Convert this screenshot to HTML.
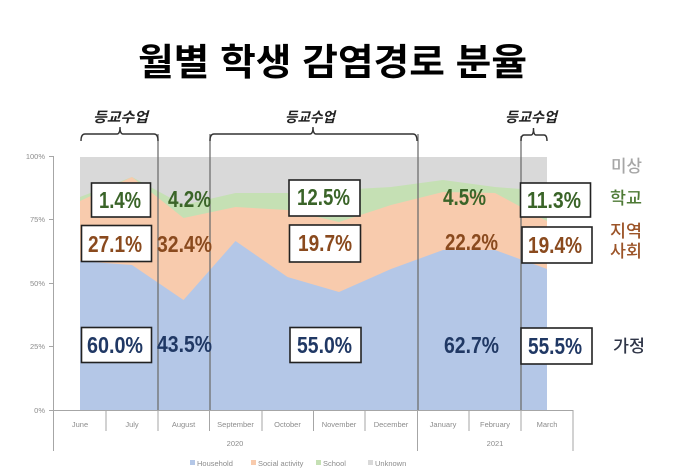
<!DOCTYPE html>
<html><head><meta charset="utf-8"><style>
html,body{margin:0;padding:0;background:#fff;}
svg{display:block;}
</style></head><body>
<svg width="680" height="469" viewBox="0 0 680 469" xmlns="http://www.w3.org/2000/svg">
<rect width="680" height="469" fill="#fff"/>
<!-- Title -->
<text x="138" y="75" font-family="'Liberation Sans','Noto Sans CJK KR',sans-serif" font-weight="700" font-size="37" fill="#000" textLength="389" lengthAdjust="spacingAndGlyphs">월별 학생 감염경로 분율</text>

<!-- Areas -->
<rect x="80" y="157" width="467" height="253" fill="#d9d9d9"/>
<polygon fill="#c5e0b4" points="80,197 132,177 183.5,205 235.5,193 287.5,193 339,190 391,187 443,180 495,187 547,191 547,410 80,410"/>
<polygon fill="#f8cbad" points="80,201 132,177 183.5,218 235.5,207 287.5,210 339,222 391,205 443,192 495,193 547,221 547,410 80,410"/>
<polygon fill="#b4c7e7" points="80,261 132,265 183.5,300 235.5,241 287.5,277 339,292 391,269 443,250 495,250 547,269 547,410 80,410"/>

<!-- Axes -->
<g stroke="#a6a6a6" stroke-width="1" fill="none">
<line x1="53.5" y1="156" x2="53.5" y2="451"/>
<line x1="49" y1="156.5" x2="53.5" y2="156.5"/>
<line x1="49" y1="219.5" x2="53.5" y2="219.5"/>
<line x1="49" y1="283.5" x2="53.5" y2="283.5"/>
<line x1="49" y1="346.5" x2="53.5" y2="346.5"/>
<line x1="49" y1="410.5" x2="573" y2="410.5"/>
<line x1="106" y1="410" x2="106" y2="431"/>
<line x1="158" y1="410" x2="158" y2="431"/>
<line x1="209.5" y1="410" x2="209.5" y2="431"/>
<line x1="262" y1="410" x2="262" y2="431"/>
<line x1="313.5" y1="410" x2="313.5" y2="431"/>
<line x1="365" y1="410" x2="365" y2="431"/>
<line x1="417.5" y1="410" x2="417.5" y2="451"/>
<line x1="469" y1="410" x2="469" y2="431"/>
<line x1="521" y1="410" x2="521" y2="431"/>
<line x1="573" y1="410" x2="573" y2="451"/>
</g>
<g font-family="'Liberation Sans',sans-serif" font-size="7.5" fill="#8c8c8c" text-anchor="end">
<text x="45" y="159">100%</text>
<text x="45" y="222">75%</text>
<text x="45" y="286">50%</text>
<text x="45" y="349">25%</text>
<text x="45" y="413">0%</text>
</g>
<g font-family="'Liberation Sans',sans-serif" font-size="7.5" fill="#8c8c8c" text-anchor="middle">
<text x="80" y="427">June</text>
<text x="132" y="427">July</text>
<text x="183.5" y="427">August</text>
<text x="235.5" y="427">September</text>
<text x="287.5" y="427">October</text>
<text x="339" y="427">November</text>
<text x="391" y="427">December</text>
<text x="443" y="427">January</text>
<text x="495" y="427">February</text>
<text x="547" y="427">March</text>
<text x="235" y="446">2020</text>
<text x="495" y="446">2021</text>
</g>

<!-- Legend -->
<g font-family="'Liberation Sans',sans-serif" font-size="7.5" fill="#8c8c8c">
<rect x="190" y="460" width="5" height="5" fill="#b4c7e7"/><text x="197" y="466">Household</text>
<rect x="251" y="460" width="5" height="5" fill="#f8cbad"/><text x="258" y="466">Social activity</text>
<rect x="316" y="460" width="5" height="5" fill="#c5e0b4"/><text x="323" y="466">School</text>
<rect x="368" y="460" width="5" height="5" fill="#d9d9d9"/><text x="375" y="466">Unknown</text>
</g>

<!-- Divider lines -->
<g stroke="#6f6f6f" stroke-width="1.3">
<line x1="158" y1="134" x2="158" y2="410"/>
<line x1="210" y1="134" x2="210" y2="410"/>
<line x1="418" y1="134" x2="418" y2="410"/>
<line x1="521" y1="136" x2="521" y2="410"/>
</g>
<!-- Brackets -->
<g stroke="#333" stroke-width="1.4" fill="none">
<path d="M81,141 Q81,134 85,134 L117,134 Q120,134 120,127 Q120,134 123,134 L154,134 Q158,134 158,141"/>
<path d="M210,141 Q210,134 214,134 L310,134 Q313,134 313,127 Q313,134 316,134 L413,134 Q417,134 417,141"/>
<path d="M521,141 Q521,135 524,135 L531,135 Q533.5,135 533.5,128 Q533.5,135 536,135 L544,135 Q547,135 547,141"/>
</g>
<g font-family="'Liberation Sans','Noto Sans CJK KR',sans-serif" font-size="14" font-style="italic" font-weight="700" fill="#222">
<text x="93" y="122" textLength="55" lengthAdjust="spacingAndGlyphs">등교수업</text>
<text x="285" y="122" textLength="50" lengthAdjust="spacingAndGlyphs">등교수업</text>
<text x="505" y="122" textLength="52" lengthAdjust="spacingAndGlyphs">등교수업</text>
</g>

<!-- Label boxes -->
<g fill="#fff" stroke="#222" stroke-width="1.6">
<rect x="91.5" y="183" width="59" height="34"/>
<rect x="81.5" y="225.5" width="70" height="36"/>
<rect x="81.5" y="327.5" width="70" height="35"/>
<rect x="289" y="180" width="71" height="36"/>
<rect x="289.5" y="225" width="71" height="37"/>
<rect x="290" y="327.5" width="71" height="35"/>
<rect x="520.5" y="183" width="70" height="34"/>
<rect x="522" y="227" width="70" height="36"/>
<rect x="521" y="328" width="71" height="36"/>
</g>

<!-- Percentage labels -->
<g font-family="'Liberation Sans',sans-serif" font-weight="700" font-size="23" lengthAdjust="spacingAndGlyphs">
<text x="99" y="208" fill="#3a6428" textLength="42" lengthAdjust="spacingAndGlyphs">1.4%</text>
<text x="168" y="207" fill="#3a6428" textLength="43" lengthAdjust="spacingAndGlyphs">4.2%</text>
<text x="297" y="205" fill="#3a6428" textLength="53" lengthAdjust="spacingAndGlyphs">12.5%</text>
<text x="443" y="205" fill="#3a6428" textLength="43" lengthAdjust="spacingAndGlyphs">4.5%</text>
<text x="527" y="208" fill="#3a6428" textLength="54" lengthAdjust="spacingAndGlyphs">11.3%</text>

<text x="88" y="252" fill="#8a4a1e" textLength="54" lengthAdjust="spacingAndGlyphs">27.1%</text>
<text x="157" y="252" fill="#8a4a1e" textLength="55" lengthAdjust="spacingAndGlyphs">32.4%</text>
<text x="298" y="251" fill="#8a4a1e" textLength="54" lengthAdjust="spacingAndGlyphs">19.7%</text>
<text x="445" y="250" fill="#8a4a1e" textLength="53" lengthAdjust="spacingAndGlyphs">22.2%</text>
<text x="528" y="253" fill="#8a4a1e" textLength="54" lengthAdjust="spacingAndGlyphs">19.4%</text>

<text x="87" y="353" fill="#203864" textLength="56" lengthAdjust="spacingAndGlyphs">60.0%</text>
<text x="157" y="352" fill="#203864" textLength="55" lengthAdjust="spacingAndGlyphs">43.5%</text>
<text x="297" y="353" fill="#203864" textLength="55" lengthAdjust="spacingAndGlyphs">55.0%</text>
<text x="444" y="353" fill="#203864" textLength="55" lengthAdjust="spacingAndGlyphs">62.7%</text>
<text x="528" y="354" fill="#203864" textLength="54" lengthAdjust="spacingAndGlyphs">55.5%</text>
</g>

<!-- Right category labels -->
<g font-family="'Liberation Sans','Noto Sans CJK KR',sans-serif" font-size="17" font-weight="500">
<text x="611" y="172" fill="#a6a6a6" textLength="31" lengthAdjust="spacingAndGlyphs">미상</text>
<text x="610" y="204" fill="#4e7a35" textLength="32" lengthAdjust="spacingAndGlyphs">학교</text>
<text x="610" y="237" fill="#9c5428" textLength="32" lengthAdjust="spacingAndGlyphs">지역</text>
<text x="610" y="257" fill="#9c5428" textLength="32" lengthAdjust="spacingAndGlyphs">사회</text>
<text x="613" y="352" fill="#2f3547" textLength="32" lengthAdjust="spacingAndGlyphs">가정</text>
</g>
</svg>
</body></html>
